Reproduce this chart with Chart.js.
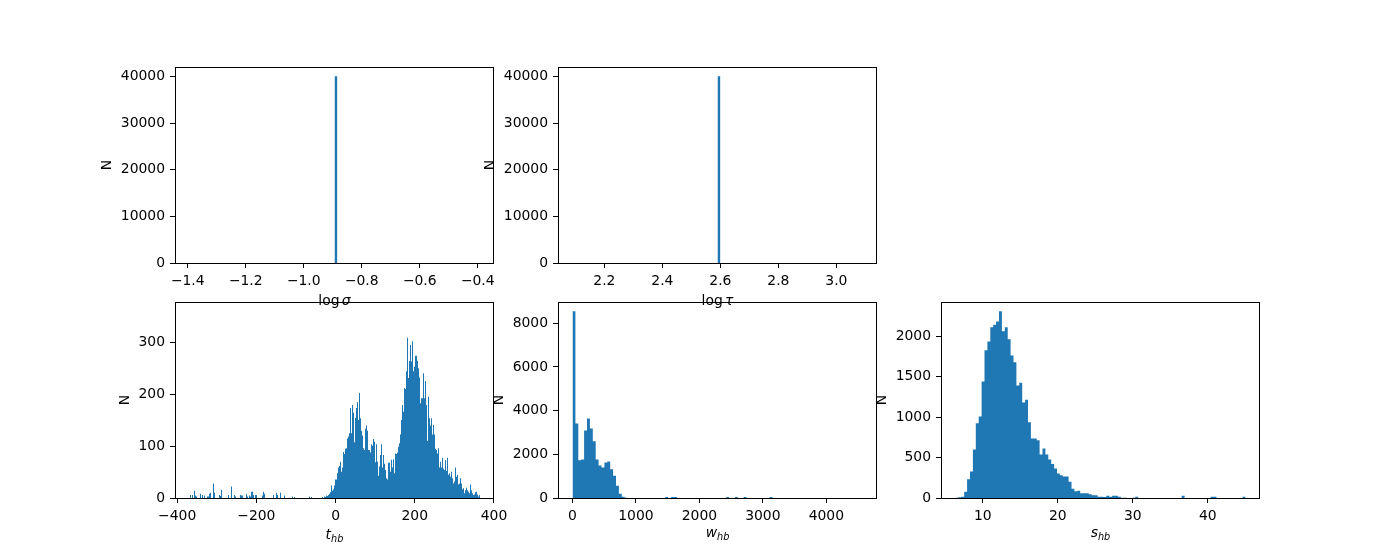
<!DOCTYPE html>
<html>
<head>
<meta charset="utf-8">
<script src="https://cdn.jsdelivr.net/npm/chart.js"></script>
<style>
  html, body { margin: 0; padding: 0; background: #fff; }
  #fig { position: relative; width: 1400px; height: 560px; overflow: hidden; background: #fff; }
  #fig canvas { position: absolute; }
</style>
</head>
<body>
<div id="fig">
  <canvas id="sigma"></canvas>
  <canvas id="tau"></canvas>
  <canvas id="thb"></canvas>
  <canvas id="whb"></canvas>
  <canvas id="shb"></canvas>
</div>
<script>
// ---- data: bin start, bin width, counts per bin ----

// log sigma: every sample in one bin
const sigmaStart = -0.894, sigmaWidth = 0.01;
const sigmaCounts = [40000];
const sigmaRange = [-1.394, -0.394];
const sigmaTicks = [-1.4, -1.2, -1.0, -0.8, -0.6, -0.4];

// log tau: same story
const tauStart = 2.59, tauWidth = 0.01;
const tauCounts = [40000];
const tauRange = [2.09, 3.09];
const tauTicks = [2.2, 2.4, 2.6, 2.8, 3.0];

const topCountTicks = [0, 10000, 20000, 30000, 40000];

// t_hb
const tStart = -367.5, tWidth = 2.525;
const tCounts = [
  6, 0, 6, 0, 14, 5, 3, 0, 0, 0,
  8, 0, 6, 0, 5, 0, 0, 3, 3, 8,
  10, 0, 0, 28, 10, 0, 0, 0, 0, 6,
  4, 16, 0, 0, 0, 0, 0, 0, 6, 0,
  0, 22, 0, 0, 6, 3, 0, 0, 0, 0,
  6, 5, 5, 0, 0, 0, 8, 3, 0, 5,
  3, 12, 12, 6, 0, 6, 6, 0, 0, 0,
  0, 0, 5, 12, 8, 0, 0, 0, 0, 0,
  0, 0, 0, 6, 0, 0, 10, 6, 0, 0,
  10, 0, 0, 0, 5, 0, 0, 0, 0, 0,
  0, 0, 3, 0, 2, 0, 0, 0, 0, 0,
  0, 0, 0, 0, 0, 0, 0, 0, 0, 3,
  0, 2, 0, 0, 0, 0, 0, 0, 0, 0,
  0, 0, 2, 0, 3, 2, 5, 4, 6, 8,
  11, 24, 14, 17, 24, 36, 36, 48, 59, 62,
  70, 51, 59, 89, 85, 95, 96, 115, 119, 125,
  174, 125, 180, 165, 108, 155, 174, 185, 151, 203,
  154, 130, 121, 96, 93, 134, 140, 130, 93, 93,
  88, 104, 101, 114, 109, 69, 104, 70, 43, 61,
  83, 104, 59, 83, 66, 54, 38, 36, 68, 68,
  51, 74, 59, 75, 48, 86, 85, 88, 99, 106,
  123, 151, 180, 167, 212, 211, 245, 310, 232, 265,
  296, 264, 303, 245, 254, 275, 275, 265, 251, 233,
  183, 193, 193, 241, 193, 226, 180, 110, 196, 154,
  140, 154, 123, 141, 123, 95, 93, 86, 96, 59,
  70, 59, 78, 57, 54, 73, 52, 78, 45, 48,
  41, 51, 38, 28, 32, 59, 41, 45, 26, 28,
  38, 28, 17, 19, 9, 15, 20, 15, 12, 9,
  26, 15, 9, 6, 7, 11, 12, 7, 3, 6
];
const tTicks = [-400, -200, 0, 200, 400];
const tCountTicks = [0, 100, 200, 300];
const tLimits = [-405.4, 400.1];

// w_hb
const wStart = 0, wWidth = 45.7;
const wCounts = [
  8547, 3410, 1728, 1758, 3089, 3639, 3180, 2599, 1758, 1483,
  1391, 1621, 1667, 1315, 1024, 566, 199, 61, 15, 4,
  2, 0, 0, 0, 0, 0, 0, 0, 0, 0,
  0, 0, 50, 0, 50, 50, 0, 0, 0, 0,
  0, 0, 0, 0, 0, 0, 0, 0, 0, 0,
  0, 0, 0, 50, 0, 0, 50, 0, 0, 50,
  0, 0, 0, 0, 0, 0, 0, 0, 50, 0,
  0, 0, 0, 0, 0, 0, 0, 0, 0, 0,
  0, 0, 0, 0, 0, 0, 0, 0, 0, 0,
  0, 0, 0, 0, 0, 0, 0, 0, 0, 1
];
const wTicks = [0, 1000, 2000, 3000, 4000];
const wCountTicks = [0, 2000, 4000, 6000, 8000];

// s_hb
const sStart = 6.36, sWidth = 0.3868;
const sCounts = [
  3, 10, 14, 78, 231, 326, 598, 923, 1006, 1439,
  1823, 1934, 2107, 2140, 2181, 2305, 2058, 2107, 1959, 1761,
  1675, 1390, 1423, 1180, 1213, 936, 734, 734, 714, 536,
  610, 536, 475, 421, 363, 301, 280, 264, 264, 202,
  115, 82, 91, 58, 58, 58, 45, 33, 33, 16,
  16, 12, 29, 16, 29, 29, 16, 4, 2, 1,
  0, 2, 16, 0, 0, 0, 0, 0, 0, 0,
  0, 0, 0, 0, 0, 0, 0, 0, 29, 0,
  0, 0, 0, 0, 0, 0, 0, 0, 16, 14,
  0, 0, 0, 0, 0, 0, 0, 0, 0, 14
];
const sTicks = [10, 20, 30, 40];
const sCountTicks = [0, 500, 1000, 1500, 2000];

// ---- layout (matplotlib default 2x3 subplot grid) ----
const AX_W = 319, AX_H = 196;
const PAD_T = 16, PAD_R = 24, XAX_H = 52;
const BLUE = '#1f77b4';
const FS = 13.9;

Chart.defaults.font.family = '"DejaVu Sans", sans-serif';
Chart.defaults.font.size = FS;
Chart.defaults.color = '#000';

// axes frame on all four sides, like matplotlib spines
// (bottom spine sits just under the baseline so 1px bins stay visible)
const frame = {
  id: 'frame',
  afterDatasetsDraw(chart) {
    const a = chart.chartArea, ctx = chart.ctx;
    ctx.save();
    ctx.strokeStyle = '#000';
    ctx.lineWidth = 1;
    ctx.strokeRect(a.left + 0.5, a.top + 0.5, a.right - a.left - 1, a.bottom - a.top);
    ctx.restore();
  }
};

// x label with italic letters / subscripts (mathtext look)
const mathLabel = {
  id: 'mathLabel',
  afterDraw(chart, args, opts) {
    if (!opts.parts) return;
    const ctx = chart.ctx, a = chart.chartArea;
    ctx.save();
    const fonts = opts.parts.map(p =>
      (p.italic ? 'italic ' : '') + (p.sub ? FS * 0.7 : FS) + 'px "DejaVu Sans"');
    let total = 0, top = 0;
    const widths = opts.parts.map((p, i) => {
      ctx.font = fonts[i];
      const m = ctx.measureText(p.text);
      top = Math.max(top, m.actualBoundingBoxAscent - (p.sub ? 2.5 : 0));
      const w = m.width + (p.gap || 0);
      total += w;
      return w;
    });
    // label's top edge sits a fixed distance under the axes
    const base = a.bottom + 31.4 + top;
    let x = (a.left + a.right) / 2 - total / 2;
    ctx.fillStyle = '#000';
    ctx.textAlign = 'left';
    ctx.textBaseline = 'alphabetic';
    opts.parts.forEach((p, i) => {
      ctx.font = fonts[i];
      ctx.fillText(p.text, x, base + (p.sub ? 2.5 : 0));
      x += widths[i];
    });
    ctx.restore();
  }
};

function steps(start, width, counts) {
  const pts = counts.map((c, i) => ({ x: start + i * width, y: c }));
  pts.push({ x: start + counts.length * width, y: counts[counts.length - 1] });
  return pts;
}

function fmt(dec) {
  return v => Number(v).toFixed(dec).replace('-', '\u2212');
}

function histPanel(id, o) {
  const canvas = document.getElementById(id);
  const yw = o.yAxisWidth;
  canvas.width = yw + AX_W + PAD_R;
  canvas.height = PAD_T + AX_H + XAX_H;
  canvas.style.left = (o.left - yw) + 'px';
  canvas.style.top = (o.top - PAD_T) + 'px';

  // matplotlib autoscale: 5% margin each side of the bin range
  const lo = o.range[0], hi = o.range[1];
  const m = 0.05 * (hi - lo);
  const xLim = o.xLimits || [lo - m, hi + m];
  const yMax = o.yMax || Math.max(...o.counts) * 1.05;

  return new Chart(canvas, {
    type: 'line',
    data: {
      datasets: [{
        data: steps(o.start, o.width, o.counts),
        stepped: true,
        fill: 'origin',
        backgroundColor: BLUE,
        borderWidth: 0,
        pointRadius: 0
      }]
    },
    options: {
      responsive: false,
      animation: false,
      events: [],
      layout: { padding: { top: PAD_T, right: PAD_R, left: 0, bottom: 0 } },
      plugins: {
        legend: { display: false },
        tooltip: { enabled: false },
        mathLabel: { parts: o.label }
      },
      scales: {
        x: {
          type: 'linear',
          min: xLim[0],
          max: xLim[1],
          offset: false,
          grid: { drawOnChartArea: false, drawTicks: true, tickLength: 5, tickColor: '#000', tickWidth: 1 },
          border: { display: false },
          ticks: { padding: 5, autoSkip: false, maxRotation: 0, callback: fmt(o.xDec) },
          afterBuildTicks: s => { s.ticks = o.xTicks.map(v => ({ value: v })); },
          afterFit: s => { s.height = XAX_H; }
        },
        y: {
          type: 'linear',
          min: 0,
          max: yMax,
          grid: { drawOnChartArea: false, drawTicks: true, tickLength: 5, tickColor: '#000', tickWidth: 1 },
          border: { display: false },
          ticks: { padding: 5, callback: fmt(0) },
          title: { display: true, text: 'N', padding: 0, color: '#000' },
          afterBuildTicks: s => { s.ticks = o.yTicks.map(v => ({ value: v })); },
          afterFit: s => { s.width = yw; }
        }
      }
    },
    plugins: [frame, mathLabel]
  });
}

histPanel('sigma', {
  left: 175, top: 67, yAxisWidth: 76,
  start: sigmaStart, width: sigmaWidth, counts: sigmaCounts, range: sigmaRange,
  xTicks: sigmaTicks, xDec: 1, yTicks: topCountTicks,
  label: [{ text: 'log', gap: 2.3 }, { text: '\u03c3', italic: true }]
});

histPanel('tau', {
  left: 558, top: 67, yAxisWidth: 76,
  start: tauStart, width: tauWidth, counts: tauCounts, range: tauRange,
  xTicks: tauTicks, xDec: 1, yTicks: topCountTicks,
  label: [{ text: 'log', gap: 2.3 }, { text: '\u03c4', italic: true }]
});

histPanel('thb', {
  left: 175, top: 302, yAxisWidth: 58,
  start: tStart, width: tWidth, counts: tCounts,
  range: [tStart, tStart + tCounts.length * tWidth],
  xLimits: tLimits,
  // one bin that is too narrow to show at this size reaches ~361
  yMax: 379,
  xTicks: tTicks, xDec: 0, yTicks: tCountTicks,
  label: [{ text: 't', italic: true }, { text: 'hb', italic: true, sub: true }]
});

histPanel('whb', {
  left: 558, top: 302, yAxisWidth: 67,
  start: wStart, width: wWidth, counts: wCounts,
  range: [wStart, wStart + wCounts.length * wWidth],
  xTicks: wTicks, xDec: 0, yTicks: wCountTicks,
  label: [{ text: 'w', italic: true }, { text: 'hb', italic: true, sub: true }]
});

histPanel('shb', {
  left: 941, top: 302, yAxisWidth: 67,
  start: sStart, width: sWidth, counts: sCounts,
  range: [sStart, sStart + sCounts.length * sWidth],
  xTicks: sTicks, xDec: 0, yTicks: sCountTicks,
  label: [{ text: 's', italic: true }, { text: 'hb', italic: true, sub: true }]
});
</script>
</body>
</html>
